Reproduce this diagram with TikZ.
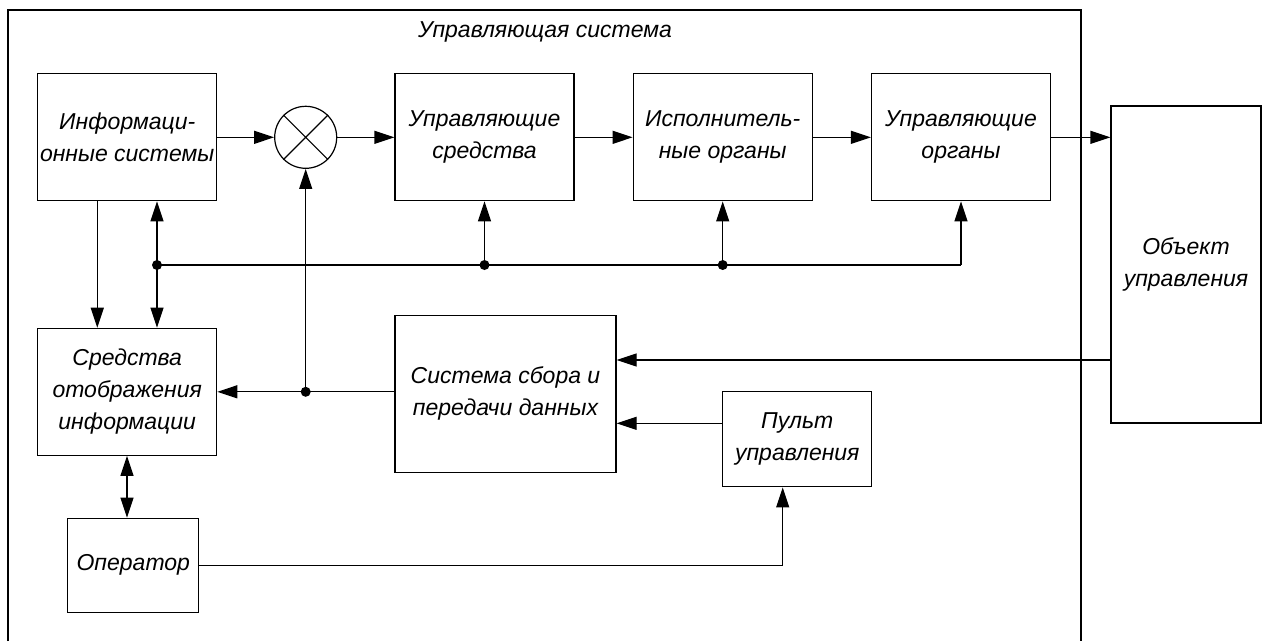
\documentclass[tikz,border=0pt]{standalone}
\usepackage{fontspec}
\setmainfont{Liberation Sans}
\usetikzlibrary{arrows.meta,calc}
\tikzset{
  blk/.style={draw, line width=1.2pt, rectangle, inner sep=0pt, align=center,
    font=\fontsize{23}{32}\selectfont\itshape, text height=, anchor=center},
  arr/.style={line width=1.2pt, -{Triangle[length=20pt,width=13pt]}},
  darr/.style={line width=1.2pt, {Triangle[length=20pt,width=13pt]}-{Triangle[length=20pt,width=13pt]}},
  ln/.style={line width=1.2pt},
  junction/.style={circle, fill=black, inner sep=0pt, minimum size=10pt}
}
\begin{document}
\begin{tikzpicture}[x=1pt,y=-1pt]
\useasboundingbox (0,0) rectangle (1265,641);
% control system frame, open at the bottom
\draw[ln] (8,641) -- (8,10) -- (1081,10) -- (1081,641);
\node[font=\fontsize{23}{32}\selectfont\itshape] (title) at (545,32) {Управляющая система};

% blocks
\node[blk, minimum width=179pt, minimum height=127pt] (info) at (127.2,137.3) {Информаци-\\онные системы};
\node[draw, circle, line width=1.2pt, minimum size=62pt, inner sep=0pt] (sum) at (305.7,137.3) {};
\draw[ln] (sum.north west) -- (sum.south east) (sum.north east) -- (sum.south west);
\node[blk, minimum width=179pt, minimum height=127pt] (us) at (484.5,137.3) {Управляющие\\средства};
\node[blk, minimum width=179pt, minimum height=127pt] (io) at (722.7,137.3) {Исполнитель-\\ные органы};
\node[blk, minimum width=179pt, minimum height=127pt] (uo) at (961,137.3) {Управляющие\\органы};
\node[blk, minimum width=150pt, minimum height=317pt] (obj) at (1186,264.5) {Объект\\управления};
\node[blk, minimum width=179pt, minimum height=127pt] (sred) at (127.2,391.8) {Средства\\отображения\\информации};
\node[blk, minimum width=221pt, minimum height=157pt] (ssd) at (505.5,393.7) {Система сбора и\\передачи данных};
\node[blk, minimum width=149pt, minimum height=95pt] (pult) at (797.3,439.3) {Пульт\\управления};
\node[blk, minimum width=131pt, minimum height=94pt] (oper) at (133.3,565.3) {Оператор};

% forward chain
\draw[arr] (info.east) -- (sum.west);
\draw[arr] (sum.east) -- (us.west);
\draw[arr] (us.east) -- (io.west);
\draw[arr] (io.east) -- (uo.west);
\draw[arr] (uo.east) -- (uo.east -| obj.west);

% information systems to display means
\coordinate (c1) at (97.3,0);
\draw[arr] (info.south -| c1) -- (sred.north -| c1);

% common bus
\node[junction] (j1) at (157,265) {};
\node[junction] (j2) at (484.5,265) {};
\node[junction] (j3) at (722.7,265) {};
\coordinate (b4) at (961,265);
\draw[arr] (j1.center) -- (info.south -| j1);
\draw[arr] (j1.center) -- (sred.north -| j1);
\draw[ln] (j1.center) -- (b4) ;
\draw[arr] (b4) -- (uo.south);
\draw[arr] (j2.center) -- (us.south);
\draw[arr] (j3.center) -- (io.south);

% data acquisition output
\node[junction] (j4) at (305.7,391.8) {};
\draw[arr] (ssd.west |- sred.east) -- (sred.east);
\draw[arr] (j4.center) -- (sum.south);

% feedback from the object
\coordinate (c2) at (0,360);
\draw[arr] (obj.west |- c2) -- (ssd.east |- c2);

% control panel
\coordinate (c3) at (0,423.3);
\draw[arr] (pult.west |- c3) -- (ssd.east |- c3);
\coordinate (c4) at (782.7,565.3);
\draw[ln] (oper.east) -- (c4);
\draw[arr] (c4) -- (pult.south -| c4);

% operator and display means
\coordinate (c5) at (127,0);
\draw[darr] (sred.south -| c5) -- (oper.north -| c5);
\end{tikzpicture}
\end{document}
